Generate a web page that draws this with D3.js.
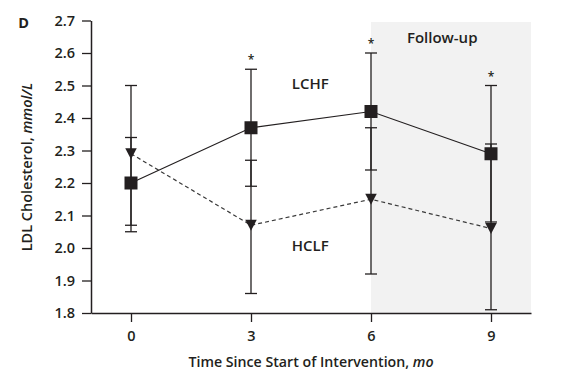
<!DOCTYPE html>
<html>
<head>
<meta charset="utf-8">
<script src="https://cdn.jsdelivr.net/npm/d3@7"></script>
<style>
  html, body { margin: 0; padding: 0; background: #fff; }
  svg { display: block; font-family: "Open Sans", sans-serif; }
</style>
</head>
<body>
<svg id="chart" width="565" height="380"></svg>
<script>
// ---- data ----
const months = [0, 3, 6, 9];
const xTicks = [0, 3, 6, 9];
const yTicks = [1.8, 1.9, 2.0, 2.1, 2.2, 2.3, 2.4, 2.5, 2.6, 2.7];
const lchfMean = [2.20, 2.37, 2.42, 2.29];
const lchfLow  = [2.05, 2.19, 2.24, 2.08];
const lchfHigh = [2.34, 2.55, 2.60, 2.50];
const hclfMean = [2.29, 2.07, 2.15, 2.06];
const hclfLow  = [2.07, 1.86, 1.92, 1.81];
const hclfHigh = [2.50, 2.27, 2.37, 2.32];
const significant = [3, 6, 9];
const followUp = [6, 10];

const ink = "#231f20";
const svg = d3.select("#chart");

const x = d3.scaleLinear().domain([-1, 10]).range([91, 531]);
const y = d3.scaleLinear().domain([1.8, 2.7]).range([313, 20.5]);

// follow-up shading
svg.append("rect")
  .attr("x", x(followUp[0])).attr("y", y(2.7) + 1.5)
  .attr("width", x(followUp[1]) - x(followUp[0]))
  .attr("height", y(1.8) - y(2.7) - 1.5)
  .attr("fill", "#f2f2f2");

// axes
const yAxis = svg.append("g")
  .attr("transform", `translate(${x(-1)},0)`)
  .call(d3.axisLeft(y).tickValues(yTicks).tickFormat(d3.format(".1f")).tickSize(9).tickSizeOuter(0).tickPadding(7));
const xAxis = svg.append("g")
  .attr("transform", `translate(0,${y(1.8)})`)
  .call(d3.axisBottom(x).tickValues(xTicks).tickSize(9).tickSizeOuter(0).tickPadding(9));

[yAxis, xAxis].forEach(g => {
  g.select(".domain").attr("stroke", ink).attr("stroke-width", 1.5);
  g.selectAll(".tick line").attr("stroke", ink).attr("stroke-width", 1.3);
  g.selectAll(".tick text").attr("fill", ink)
    .style("font-family", '"Open Sans", sans-serif')
    .style("font-size", "14.5px").style("font-weight", 600);
});

// error bars
const capW = 12;
function errorBars(low, high) {
  const g = svg.append("g").attr("stroke", ink).attr("stroke-width", 1.3);
  months.forEach((m, i) => {
    g.append("line").attr("x1", x(m)).attr("x2", x(m)).attr("y1", y(low[i])).attr("y2", y(high[i]));
    [low[i], high[i]].forEach(v => {
      g.append("line").attr("x1", x(m) - capW / 2).attr("x2", x(m) + capW / 2)
        .attr("y1", y(v)).attr("y2", y(v));
    });
  });
}
errorBars(lchfLow, lchfHigh);
errorBars(hclfLow, hclfHigh);

// lines
const line = d3.line().x((d, i) => x(months[i])).y(d => y(d));
svg.append("path").datum(hclfMean).attr("d", line)
  .attr("fill", "none").attr("stroke", "#3a3a3a").attr("stroke-width", 1.2)
  .attr("stroke-dasharray", "4,3");
svg.append("path").datum(lchfMean).attr("d", line)
  .attr("fill", "none").attr("stroke", ink).attr("stroke-width", 1.2);

// markers
const sq = 13;
svg.selectAll("rect.lchf").data(lchfMean).enter().append("rect")
  .attr("class", "lchf")
  .attr("x", (d, i) => x(months[i]) - sq / 2).attr("y", d => y(d) - sq / 2)
  .attr("width", sq).attr("height", sq).attr("fill", ink);
const tw = 11.5, th = 11;
svg.selectAll("path.hclf").data(hclfMean).enter().append("path")
  .attr("class", "hclf")
  .attr("d", (d, i) => {
    const cx = x(months[i]), cy = y(d);
    return `M${cx - tw / 2},${cy - th / 2}L${cx + tw / 2},${cy - th / 2}L${cx},${cy + th / 2}Z`;
  })
  .attr("fill", ink);

// significance asterisks
significant.forEach(m => {
  const i = months.indexOf(m);
  const top = Math.max(lchfHigh[i], hclfHigh[i]);
  svg.append("text").attr("x", x(m)).attr("y", y(top) - 5)
    .attr("text-anchor", "middle").attr("fill", ink)
    .style("font-size", "12px").style("font-weight", 600).text("*");
});

// labels
function label(txt, px, py, size, weight) {
  return svg.append("text").attr("x", px).attr("y", py)
    .attr("text-anchor", "middle").attr("fill", ink)
    .style("font-size", size + "px").style("font-weight", weight).text(txt);
}
label("LCHF", x(4.48), y(2.489), 15, 600);
label("HCLF", x(4.48), y(1.991), 15, 600);
label("Follow-up", x(7.78), y(2.632), 15, 600);
label("D", 23.5, 28, 14.5, 700);

// axis titles
const xt = svg.append("text").attr("x", 311).attr("y", 366.5)
  .attr("text-anchor", "middle").attr("fill", ink)
  .style("font-size", "14.2px").style("font-weight", 600);
xt.append("tspan").text("Time Since Start of Intervention, ");
xt.append("tspan").style("font-style", "italic").text("mo");

const yt = svg.append("text").attr("transform", "translate(32,167) rotate(-90)")
  .attr("text-anchor", "middle").attr("fill", ink)
  .style("font-size", "14.5px").style("font-weight", 600);
yt.append("tspan").text("LDL Cholesterol, ");
yt.append("tspan").style("font-style", "italic").text("mmol/L");
</script>
</body>
</html>
